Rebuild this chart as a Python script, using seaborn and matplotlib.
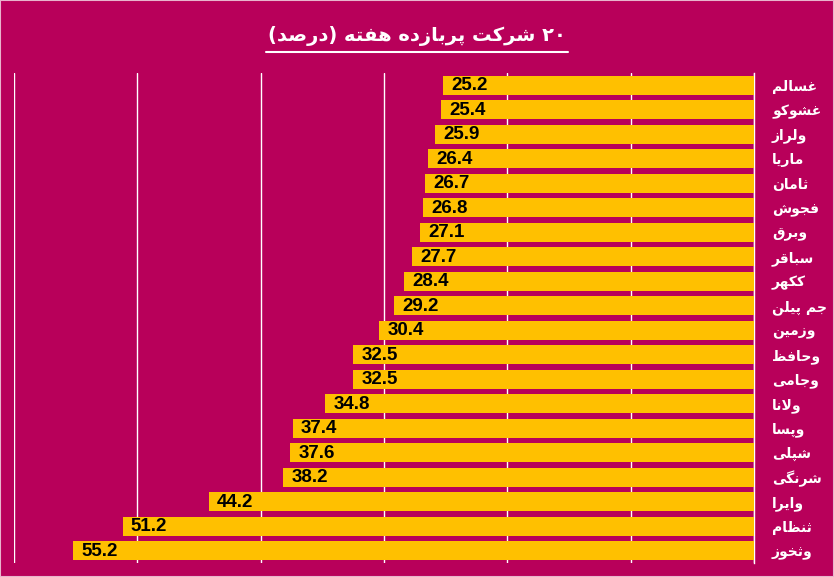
import matplotlib
matplotlib.use("Agg")
import matplotlib.pyplot as plt
import seaborn as sns
import pandas as pd
from matplotlib.patches import Rectangle
from matplotlib.lines import Line2D

# ---------------- data ----------------
title_text = "۲۰ شرکت پربازده هفته (درصد)"
companies = ["غسالم", "غشوکو", "ولراز", "ماریا", "ثامان", "فجوش", "وبرق", "سباقر",
             "ککهر", "جم پیلن", "وزمین", "وحافظ", "وجامی", "ولانا", "وپسا", "شپلی",
             "شرنگی", "وایرا", "ثنظام", "وثخوز"]
returns = [25.2, 25.4, 25.9, 26.4, 26.7, 26.8, 27.1, 27.7, 28.4, 29.2,
           30.4, 32.5, 32.5, 34.8, 37.4, 37.6, 38.2, 44.2, 51.2, 55.2]
grid_ticks = [0, 10, 20, 30, 40, 50, 60]

# ---------------- minimal Arabic/Persian shaping ----------------
FORMS = {
    '\u0627': ('\uFE8D', '\uFE8E', None, None),
    '\u0628': ('\uFE8F', '\uFE90', '\uFE91', '\uFE92'),
    '\u062A': ('\uFE95', '\uFE96', '\uFE97', '\uFE98'),
    '\u062B': ('\uFE99', '\uFE9A', '\uFE9B', '\uFE9C'),
    '\u062C': ('\uFE9D', '\uFE9E', '\uFE9F', '\uFEA0'),
    '\u062D': ('\uFEA1', '\uFEA2', '\uFEA3', '\uFEA4'),
    '\u062E': ('\uFEA5', '\uFEA6', '\uFEA7', '\uFEA8'),
    '\u062F': ('\uFEA9', '\uFEAA', None, None),
    '\u0631': ('\uFEAD', '\uFEAE', None, None),
    '\u0632': ('\uFEAF', '\uFEB0', None, None),
    '\u0633': ('\uFEB1', '\uFEB2', '\uFEB3', '\uFEB4'),
    '\u0634': ('\uFEB5', '\uFEB6', '\uFEB7', '\uFEB8'),
    '\u0635': ('\uFEB9', '\uFEBA', '\uFEBB', '\uFEBC'),
    '\u0637': ('\uFEC1', '\uFEC2', '\uFEC3', '\uFEC4'),
    '\u0638': ('\uFEC5', '\uFEC6', '\uFEC7', '\uFEC8'),
    '\u063A': ('\uFECD', '\uFECE', '\uFECF', '\uFED0'),
    '\u0641': ('\uFED1', '\uFED2', '\uFED3', '\uFED4'),
    '\u0642': ('\uFED5', '\uFED6', '\uFED7', '\uFED8'),
    '\u06A9': ('\uFB8E', '\uFB8F', '\uFB90', '\uFB91'),
    '\u06AF': ('\uFB92', '\uFB93', '\uFB94', '\uFB95'),
    '\u0644': ('\uFEDD', '\uFEDE', '\uFEDF', '\uFEE0'),
    '\u0645': ('\uFEE1', '\uFEE2', '\uFEE3', '\uFEE4'),
    '\u0646': ('\uFEE5', '\uFEE6', '\uFEE7', '\uFEE8'),
    '\u0647': ('\uFEE9', '\uFEEA', '\uFEEB', '\uFEEC'),
    '\u0648': ('\uFEED', '\uFEEE', None, None),
    '\u06CC': ('\uFBFC', '\uFBFD', '\uFBFE', '\uFBFF'),
    '\u067E': ('\uFB56', '\uFB57', '\uFB58', '\uFB59'),
    'LA': ('\uFEFB', '\uFEFC', None, None),
}


def shape(text):
    toks = []
    i = 0
    while i < len(text):
        if text[i] == '\u0644' and i + 1 < len(text) and text[i + 1] == '\u0627':
            toks.append('LA')
            i += 2
        else:
            toks.append(text[i])
            i += 1
    out = []
    for k, t in enumerate(toks):
        if t not in FORMS:
            out.append(t)
            continue
        f = FORMS[t]
        prev_j = k > 0 and toks[k - 1] in FORMS and FORMS[toks[k - 1]][2] is not None
        next_j = k + 1 < len(toks) and toks[k + 1] in FORMS
        if f[2] is not None:
            if prev_j and next_j:
                g = f[3]
            elif prev_j:
                g = f[1]
            elif next_j:
                g = f[2]
            else:
                g = f[0]
        else:
            g = f[1] if prev_j else f[0]
        out.append(g)
    # visual order: reverse, keep digit runs LTR, mirror parentheses
    rev = out[::-1]
    mirror = {'(': ')', ')': '('}
    rev = [mirror.get(c, c) for c in rev]
    res = []
    run = []
    for c in rev:
        if c.isdigit() or c == '.':
            run.append(c)
        else:
            if run:
                res.extend(run[::-1])
                run = []
            res.append(c)
    if run:
        res.extend(run[::-1])
    return ''.join(res)


# ---------------- style ----------------
BG = "#B8005A"
BAR = "#FFC000"
sns.set_theme(style="white")
plt.rcParams['font.family'] = ['DejaVu Sans']

fig = plt.figure(figsize=(8.34, 5.77), dpi=100, facecolor=BG)
W, H = 834, 577
ax = fig.add_axes([14 / W, 1 - 563 / H, (754 - 14) / W, (563 - 73) / H])
ax.set_facecolor(BG)

df = pd.DataFrame({"company": companies, "value": returns})
sns.barplot(data=df, x="value", y="company", order=companies, color=BAR,
            saturation=1, width=0.78, ax=ax, zorder=3, linewidth=0,
            edgecolor=BAR)

ax.set_xlim(60, 0)
ax.set_ylim(len(companies) - 0.5, -0.5)
ax.set_xticks(grid_ticks)
ax.xaxis.grid(True, color="white", linewidth=1.0, zorder=0)
ax.yaxis.grid(False)
ax.set_axisbelow(True)
ax.tick_params(axis="x", length=0, labelbottom=False)
ax.set_xlabel("")
ax.set_ylabel("")
for s in ["top", "bottom", "left"]:
    ax.spines[s].set_visible(False)
ax.spines["right"].set_visible(True)
ax.spines["right"].set_color("white")
ax.spines["right"].set_linewidth(1.0)

ax.yaxis.tick_right()
ax.set_yticks(range(len(companies)))
ax.set_yticklabels([shape(c) for c in companies], color="white",
                   fontsize=10, fontweight="bold", family=["DejaVu Sans"])
ax.tick_params(axis="y", length=0, pad=13)
for lab in ax.get_yticklabels():
    lab.set_horizontalalignment("left")

for i, v in enumerate(returns):
    ax.annotate(f"{v:.1f}", xy=(v, i), xytext=(6, -0.5), textcoords="offset points",
                ha="left", va="center", fontsize=13.5, fontweight="bold",
                family=["Liberation Sans", "DejaVu Sans"], color="black", zorder=5)

# title with underline
t = fig.text(417 / W, 1 - 36 / H, shape(title_text), ha="center", va="center",
             color="white", fontsize=14, fontweight="bold",
             family=["DejaVu Sans"])
fig.canvas.draw()
bb = t.get_window_extent(renderer=fig.canvas.get_renderer())
y_ul = 1 - 52 / H
fig.add_artist(Line2D([bb.x0 / W - 0.002, bb.x1 / W + 0.002], [y_ul, y_ul],
                      transform=fig.transFigure, color="white", linewidth=1.5))

# thin light border around the image
fig.add_artist(Rectangle((0, 0), 1, 1, transform=fig.transFigure, fill=False,
                         edgecolor="#E8B4CC", linewidth=1.5))

fig.savefig("out.png", dpi=100, facecolor=BG)
